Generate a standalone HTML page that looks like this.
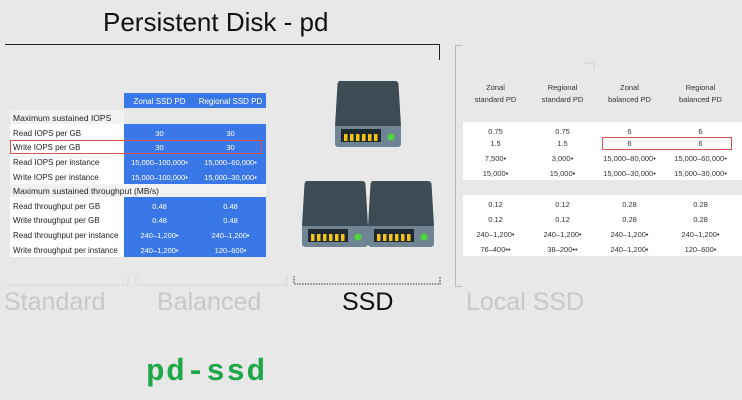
<!DOCTYPE html>
<html><head><meta charset="utf-8"><style>
body{margin:0;width:742px;height:400px;background:#e8e8e8;position:relative;overflow:hidden;font-family:"Liberation Sans","DejaVu Sans",sans-serif}
.a{position:absolute}
.t{position:absolute;font-size:8px;color:#222;white-space:nowrap}
.b{position:absolute;font-size:7.5px;color:#fff;text-align:center;white-space:nowrap}
.r{position:absolute;font-size:7.5px;color:#333;text-align:center;white-space:nowrap}
</style></head><body>
<div class="a" style="left:103px;top:7px;font-size:26px;color:#111">Persistent Disk - pd</div>
<div class="a" style="left:5px;top:44px;width:435px;height:0;border-top:1.5px solid #222"></div>
<div class="a" style="left:439px;top:44px;width:0;height:16px;border-left:1.5px solid #222"></div>
<div class="a" style="left:455px;top:45px;width:6px;height:240px;border:1px solid #bbb;border-right:none"></div>

<div class="a" style="left:124px;top:93px;width:142px;height:15px;background:#3b78e7"></div>
<div class="b" style="left:124px;top:97px;width:71px;font-size:8px">Zonal SSD PD</div>
<div class="b" style="left:195px;top:97px;width:71px;font-size:8px">Regional SSD PD</div>
<div class="a" style="left:10px;top:110px;width:114px;height:14px;background:#f2f2f2"></div>
<div class="t" style="left:13px;top:113px;font-size:8.5px">Maximum sustained IOPS</div>
<div class="a" style="left:10px;top:124px;width:114px;height:60px;background:#fff"></div>
<div class="a" style="left:124px;top:124px;width:142px;height:60px;background:#3b78e7"></div>
<div class="a" style="left:10px;top:184px;width:256px;height:13px;background:#f2f2f2"></div>
<div class="t" style="left:13px;top:186px;font-size:8.5px">Maximum sustained throughput (MB/s)</div>
<div class="a" style="left:10px;top:197px;width:114px;height:60px;background:#fff"></div>
<div class="a" style="left:124px;top:197px;width:142px;height:60px;background:#3b78e7"></div>

<div class="t" style="left:13px;top:129px">Read IOPS per GB</div><div class="b" style="left:124px;top:129px;width:71px">30</div><div class="b" style="left:195px;top:129px;width:71px">30</div>
<div class="t" style="left:13px;top:143px">Write IOPS per GB</div><div class="b" style="left:124px;top:143px;width:71px">30</div><div class="b" style="left:195px;top:143px;width:71px">30</div>
<div class="t" style="left:13px;top:158px">Read IOPS per instance</div><div class="b" style="left:124px;top:158px;width:71px">15,000–100,000•</div><div class="b" style="left:195px;top:158px;width:71px">15,000–60,000•</div>
<div class="t" style="left:13px;top:173px">Write IOPS per instance</div><div class="b" style="left:124px;top:173px;width:71px">15,000–100,000•</div><div class="b" style="left:195px;top:173px;width:71px">15,000–30,000•</div>
<div class="t" style="left:13px;top:202px">Read throughput per GB</div><div class="b" style="left:124px;top:202px;width:71px">0.48</div><div class="b" style="left:195px;top:202px;width:71px">0.48</div>
<div class="t" style="left:13px;top:216px">Write throughput per GB</div><div class="b" style="left:124px;top:216px;width:71px">0.48</div><div class="b" style="left:195px;top:216px;width:71px">0.48</div>
<div class="t" style="left:13px;top:231px">Read throughput per instance</div><div class="b" style="left:124px;top:231px;width:71px">240–1,200•</div><div class="b" style="left:195px;top:231px;width:71px">240–1,200•</div>
<div class="t" style="left:13px;top:246px">Write throughput per instance</div><div class="b" style="left:124px;top:246px;width:71px">240–1,200•</div><div class="b" style="left:195px;top:246px;width:71px">120–600•</div>
<div class="a" style="left:10px;top:140px;width:250px;height:12px;border:1.5px solid #d9534f"></div>

<svg class="a" style="left:0;top:0" width="742" height="400">
<defs><g id="d">
<path d="M5,0 H60 Q63,0 63.5,3 L66,45 V62 Q66,66 62,66 H4 Q0,66 0,62 V45 L2.5,3 Q3,0 5,0Z" fill="#3d4b55"/>
<path d="M0,45 H66 V62 Q66,66 62,66 H4 Q0,66 0,62Z" fill="#6f8594"/>
<rect x="6" y="48" width="40" height="13" fill="#1f2a30"/>
<g fill="#f2c21b"><rect x="9" y="53" width="3.5" height="7"/><rect x="15" y="53" width="3.5" height="7"/><rect x="21" y="53" width="3.5" height="7"/><rect x="27" y="53" width="3.5" height="7"/><rect x="33" y="53" width="3.5" height="7"/><rect x="39" y="53" width="3.5" height="7"/></g>
<circle cx="56" cy="56" r="3.5" fill="#4fd63a"/></g></defs>
<use href="#d" x="335" y="81"/>
<use href="#d" x="302" y="181"/>
<use href="#d" x="368" y="181"/>
<path d="M294,276 V284 H440 V276" fill="none" stroke="#333" stroke-dasharray="1.5,1.2"/>
<path d="M5,285 H128 V276 M136,276 V285 H287 V276" fill="none" stroke="#c8c8c8" stroke-dasharray="1.5,1.2"/>
<path d="M585,63 H594 V70 M594,218 V230 H585" fill="none" stroke="#bbb" stroke-dasharray="1.5,1.2"/>
</svg>

<div class="a" style="left:4px;top:288px;font-size:25px;color:#c8c8c8">Standard</div>
<div class="a" style="left:157px;top:288px;font-size:25px;color:#c8c8c8">Balanced</div>
<div class="a" style="left:342px;top:288px;font-size:25px;color:#111">SSD</div>
<div class="a" style="left:466px;top:288px;font-size:25px;color:#c8c8c8">Local SSD</div>
<div class="a" style="left:146px;top:355px;font-size:31px;font-weight:bold;color:#1ea84a;font-family:'Liberation Mono',monospace;letter-spacing:1.5px">pd-ssd</div>

<div class="r" style="left:462px;top:82px;width:67px;font-size:7.5px;line-height:12px">Zonal<br>standard PD</div>
<div class="r" style="left:529px;top:82px;width:67px;font-size:7.5px;line-height:12px">Regional<br>standard PD</div>
<div class="r" style="left:596px;top:82px;width:67px;font-size:7.5px;line-height:12px">Zonal<br>balanced PD</div>
<div class="r" style="left:667px;top:82px;width:67px;font-size:7.5px;line-height:12px">Regional<br>balanced PD</div>
<div class="a" style="left:463px;top:122px;width:279px;height:58px;background:#fff"></div>
<div class="a" style="left:463px;top:195px;width:279px;height:61px;background:#fff"></div>
<div class="r" style="left:462px;top:127px;width:67px">0.75</div><div class="r" style="left:529px;top:127px;width:67px">0.75</div><div class="r" style="left:596px;top:127px;width:67px">6</div><div class="r" style="left:667px;top:127px;width:67px">6</div>
<div class="r" style="left:462px;top:139px;width:67px">1.5</div><div class="r" style="left:529px;top:139px;width:67px">1.5</div><div class="r" style="left:596px;top:139px;width:67px">6</div><div class="r" style="left:667px;top:139px;width:67px">6</div>
<div class="r" style="left:462px;top:154px;width:67px">7,500•</div><div class="r" style="left:529px;top:154px;width:67px">3,000•</div><div class="r" style="left:596px;top:154px;width:67px">15,000–80,000•</div><div class="r" style="left:667px;top:154px;width:67px">15,000–60,000•</div>
<div class="r" style="left:462px;top:169px;width:67px">15,000•</div><div class="r" style="left:529px;top:169px;width:67px">15,000•</div><div class="r" style="left:596px;top:169px;width:67px">15,000–30,000•</div><div class="r" style="left:667px;top:169px;width:67px">15,000–30,000•</div>
<div class="r" style="left:462px;top:200px;width:67px">0.12</div><div class="r" style="left:529px;top:200px;width:67px">0.12</div><div class="r" style="left:596px;top:200px;width:67px">0.28</div><div class="r" style="left:667px;top:200px;width:67px">0.28</div>
<div class="r" style="left:462px;top:215px;width:67px">0.12</div><div class="r" style="left:529px;top:215px;width:67px">0.12</div><div class="r" style="left:596px;top:215px;width:67px">0.28</div><div class="r" style="left:667px;top:215px;width:67px">0.28</div>
<div class="r" style="left:462px;top:230px;width:67px">240–1,200•</div><div class="r" style="left:529px;top:230px;width:67px">240–1,200•</div><div class="r" style="left:596px;top:230px;width:67px">240–1,200•</div><div class="r" style="left:667px;top:230px;width:67px">240–1,200•</div>
<div class="r" style="left:462px;top:245px;width:67px">76–400••</div><div class="r" style="left:529px;top:245px;width:67px">38–200••</div><div class="r" style="left:596px;top:245px;width:67px">240–1,200•</div><div class="r" style="left:667px;top:245px;width:67px">120–600•</div>
<div class="a" style="left:602px;top:137px;width:128px;height:11px;border:1.5px solid #d9534f"></div>
</body></html>
